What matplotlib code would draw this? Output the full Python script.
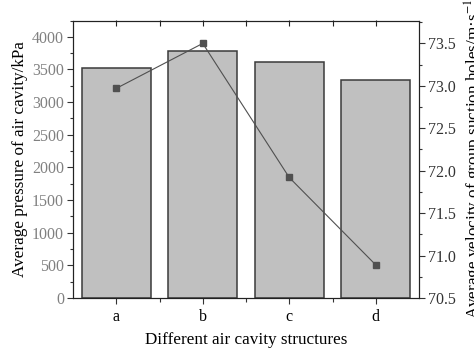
import matplotlib
matplotlib.use("Agg")
import matplotlib.pyplot as plt
from matplotlib.ticker import MultipleLocator, FixedLocator

categories = ["a", "b", "c", "d"]
pressure = [3520, 3790, 3622, 3341]
velocity = [72.97, 73.50, 71.92, 70.89]

plt.rcParams['font.family'] = ['Liberation Serif', 'DejaVu Serif']
plt.rcParams['mathtext.fontset'] = 'stix'

fig = plt.figure(figsize=(4.74, 3.49), dpi=100)
ax = fig.add_axes([73/474, 1 - 298/349, (419 - 73)/474, (298 - 20.5)/349])

x = list(range(len(categories)))
ax.bar(x, pressure, width=0.8, color="#c0c0c0", edgecolor="#3a3a3a", linewidth=1.1, zorder=2)
ax.set_xlim(-0.5, 3.5)
ax.set_ylim(0, 4250)
ax.set_xticks(x)
ax.set_xticklabels(categories)
ax.xaxis.set_minor_locator(FixedLocator([0.5, 1.5, 2.5]))
ax.yaxis.set_major_locator(MultipleLocator(500))
ax.yaxis.set_minor_locator(MultipleLocator(250))
ax.tick_params(axis='y', which='major', direction='out', length=4, width=0.8, labelsize=11.5, labelcolor='#808080', color='#333333', pad=2.5)
ax.tick_params(axis='y', which='minor', direction='out', length=2, width=0.8, color='#333333')
ax.tick_params(axis='x', which='major', direction='out', length=4, width=0.8, labelsize=11.5, color='#333333', pad=4)
ax.tick_params(axis='x', which='minor', direction='out', length=3, width=0.8, color='#333333')
ax.set_xlabel("Different air cavity structures", fontsize=12.3, labelpad=5)
ax.set_ylabel("Average pressure of air cavity/kPa", fontsize=12.3, labelpad=3)
for s in ax.spines.values():
    s.set_color('#222222')
    s.set_linewidth(0.8)

# inward ticks on top
sec = ax.secondary_xaxis('top')
sec.set_xticks(x)
sec.set_xticklabels([])
sec.xaxis.set_minor_locator(FixedLocator([0.5, 1.5, 2.5]))
sec.tick_params(axis='x', which='both', direction='in', length=4, width=0.8, color='#222222')
sec.spines['top'].set_visible(False)

ax2 = ax.twinx()
ax2.plot(x, velocity, color="#505050", linewidth=0.8, marker='s', markersize=4.5,
         markerfacecolor="#505050", markeredgecolor="#505050", zorder=3)
ax2.set_ylim(70.5, 73.77)
ax2.yaxis.set_major_locator(MultipleLocator(0.5))
ax2.yaxis.set_minor_locator(MultipleLocator(0.25))
ax2.yaxis.set_major_formatter(matplotlib.ticker.FormatStrFormatter('%.1f'))
ax2.tick_params(axis='y', which='major', direction='out', length=4, width=0.8, labelsize=11.5, labelcolor='#333333', color='#333333', pad=2.5)
ax2.tick_params(axis='y', which='minor', direction='out', length=2, width=0.8, color='#333333')
ax2.set_ylabel("Average velocity of group suction holes/m·s$^{-1}$", fontsize=12.3, labelpad=5)
for s in ax2.spines.values():
    s.set_color('#222222')
    s.set_linewidth(0.8)

fig.savefig("out.png", dpi=100)
